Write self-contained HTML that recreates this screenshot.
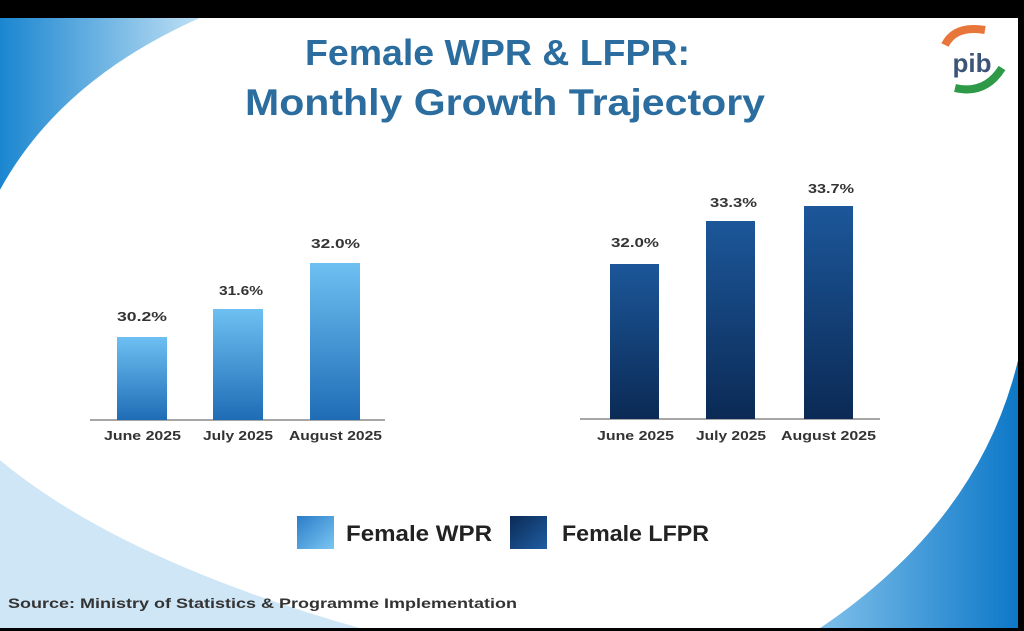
<!DOCTYPE html>
<html><head><style>
html,body{margin:0;padding:0;background:#000;}
svg{display:block;}
text{font-family:"Liberation Sans",sans-serif;}
</style></head><body>
<svg width="1024" height="631" viewBox="0 0 1024 631" xmlns="http://www.w3.org/2000/svg">
<defs>
<linearGradient id="bgL" x1="0" y1="0" x2="1" y2="0"><stop offset="0" stop-color="#1a86d0"/><stop offset="1" stop-color="#bfe0f5"/></linearGradient>
<linearGradient id="bgR" x1="0" y1="0" x2="1" y2="0"><stop offset="0" stop-color="#7fc0ea"/><stop offset="1" stop-color="#0d78c8"/></linearGradient>
<linearGradient id="wpr" x1="0" y1="0" x2="0" y2="1"><stop offset="0" stop-color="#6ec0f2"/><stop offset="1" stop-color="#1f6cb6"/></linearGradient>
<linearGradient id="lfpr" x1="0" y1="0" x2="0" y2="1"><stop offset="0" stop-color="#1c579a"/><stop offset="1" stop-color="#0b2a55"/></linearGradient>
<linearGradient id="lw" x1="0" y1="0" x2="1" y2="1"><stop offset="0" stop-color="#2b7cc8"/><stop offset="1" stop-color="#7ac6f2"/></linearGradient>
<linearGradient id="ll" x1="0" y1="0" x2="1" y2="1"><stop offset="0" stop-color="#0b2a55"/><stop offset="1" stop-color="#1f5ea3"/></linearGradient>
</defs>
<rect x="0" y="18" width="1018" height="610" fill="#f4f9fd"/>
<path d="M0 18 L200 18 Q60 80 0 190 Z" fill="url(#bgL)"/>
<path d="M0 460 Q120 560 360 628 L0 628 Z" fill="#cfe6f6"/>
<path d="M1018 360 Q980 520 820 628 L1018 628 Z" fill="url(#bgR)"/>
<path d="M200 18 Q60 80 0 190 L0 460 Q120 560 360 628 L820 628 Q980 520 1018 360 L1018 18 Z" fill="#ffffff"/>
<text x="305" y="65" textLength="385" lengthAdjust="spacingAndGlyphs" font-size="36" font-weight="bold" fill="#2b6d9e">Female WPR &amp; LFPR:</text>
<text x="245" y="115" textLength="520" lengthAdjust="spacingAndGlyphs" font-size="37" font-weight="bold" fill="#2b6d9e">Monthly Growth Trajectory</text>
<circle cx="972" cy="60" r="32" fill="#fff"/>
<path d="M945 45 Q955 25 985 30" stroke="#e8763a" stroke-width="8" fill="none"/>
<path d="M955 88 Q985 95 1002 68" stroke="#2e9a48" stroke-width="8" fill="none"/>
<text x="972" y="72" text-anchor="middle" font-size="26" font-weight="bold" fill="#3b5478">pib</text>
<line x1="90" y1="420" x2="385" y2="420" stroke="#888" stroke-width="1.5"/>
<rect x="117" y="337" width="50" height="83" fill="url(#wpr)"/>
<rect x="213" y="309" width="50" height="111" fill="url(#wpr)"/>
<rect x="310" y="263" width="50" height="157" fill="url(#wpr)"/>
<g font-size="13" font-weight="bold" fill="#333">
<text x="117" y="321" textLength="50" lengthAdjust="spacingAndGlyphs">30.2%</text>
<text x="219" y="295" textLength="44" lengthAdjust="spacingAndGlyphs">31.6%</text>
<text x="311" y="248" textLength="49" lengthAdjust="spacingAndGlyphs">32.0%</text>
<text x="104" y="440" textLength="77" lengthAdjust="spacingAndGlyphs">June 2025</text>
<text x="203" y="440" textLength="70" lengthAdjust="spacingAndGlyphs">July 2025</text>
<text x="289" y="440" textLength="93" lengthAdjust="spacingAndGlyphs">August 2025</text>
</g>
<line x1="580" y1="419" x2="880" y2="419" stroke="#888" stroke-width="1.5"/>
<rect x="610" y="264" width="49" height="155" fill="url(#lfpr)"/>
<rect x="706" y="221" width="49" height="198" fill="url(#lfpr)"/>
<rect x="804" y="206" width="49" height="213" fill="url(#lfpr)"/>
<g font-size="13" font-weight="bold" fill="#333">
<text x="611" y="247" textLength="48" lengthAdjust="spacingAndGlyphs">32.0%</text>
<text x="710" y="207" textLength="47" lengthAdjust="spacingAndGlyphs">33.3%</text>
<text x="808" y="193" textLength="46" lengthAdjust="spacingAndGlyphs">33.7%</text>
<text x="597" y="440" textLength="77" lengthAdjust="spacingAndGlyphs">June 2025</text>
<text x="696" y="440" textLength="70" lengthAdjust="spacingAndGlyphs">July 2025</text>
<text x="781" y="440" textLength="95" lengthAdjust="spacingAndGlyphs">August 2025</text>
</g>
<rect x="297" y="516" width="37" height="33" fill="url(#lw)"/>
<text x="346" y="541" textLength="146" lengthAdjust="spacingAndGlyphs" font-size="22" font-weight="bold" fill="#222">Female WPR</text>
<rect x="510" y="516" width="37" height="33" fill="url(#ll)"/>
<text x="562" y="541" textLength="147" lengthAdjust="spacingAndGlyphs" font-size="22" font-weight="bold" fill="#222">Female LFPR</text>
<text x="8" y="608" textLength="509" lengthAdjust="spacingAndGlyphs" font-size="14" font-weight="bold" fill="#333">Source: Ministry of Statistics &amp; Programme Implementation</text>
</svg>
</body></html>
